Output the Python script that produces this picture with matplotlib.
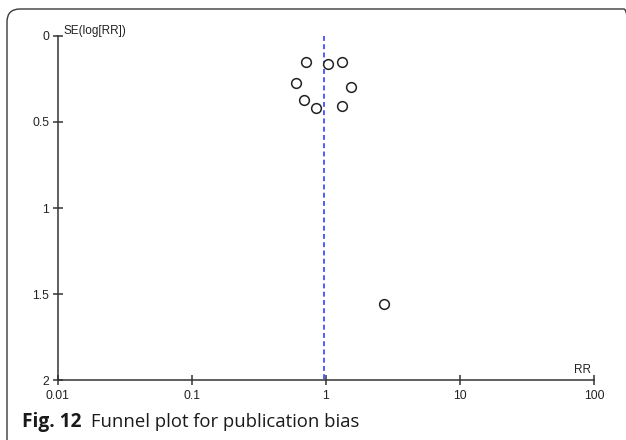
import numpy as np
import matplotlib
matplotlib.use("Agg")
import matplotlib.pyplot as plt
from matplotlib.patches import FancyBboxPatch
from matplotlib.ticker import FixedLocator, NullLocator

# study estimates
rr = [0.71, 1.03, 1.33, 0.60, 1.53, 0.69, 0.85, 1.31, 2.72]
se_log_rr = [0.149, 0.163, 0.152, 0.272, 0.295, 0.374, 0.420, 0.405, 1.56]
pooled_rr = 0.97

x_ticks = [0.01, 0.1, 1, 10, 100]
x_tick_labels = ['0.01', '0.1', '1', '10', '100']
y_ticks = [0, 0.5, 1, 1.5, 2]
y_tick_labels = ['0', '0.5', '1', '1.5', '2']

W, H = 626, 440
fig = plt.figure(figsize=(W / 100, H / 100), dpi=100)

# rounded frame around the figure (cut off at right/bottom like the scan)
frame = FancyBboxPatch((7, -30), 637 - 7, H - 9 + 30,
                       boxstyle="round,pad=0,rounding_size=13",
                       transform=None, fill=False, edgecolor='#3a3a3a', linewidth=1.0)
fig.add_artist(frame)

ax = fig.add_axes([57.7 / W, 1 - 380 / H, (594 - 57.7) / W, (380 - 36) / H])
ax.set_facecolor('none')

ax.plot([pooled_rr, pooled_rr], [0, 2], color='#2030ff', linewidth=1.1,
        dashes=(3.2, 2.2))
ax.plot(rr, se_log_rr, 'o', markersize=7, markerfacecolor='white',
        markeredgecolor='#222222', markeredgewidth=1.1, linestyle='none')

ax.set_xscale('log')
ax.set_xlim(0.01, 100)
ax.set_ylim(2, 0)

for s in ['top', 'right']:
    ax.spines[s].set_visible(False)
for s in ['left', 'bottom']:
    ax.spines[s].set_color('#333333')
    ax.spines[s].set_linewidth(1.1)

ax.xaxis.set_major_locator(FixedLocator(x_ticks))
ax.xaxis.set_minor_locator(NullLocator())
ax.set_xticklabels(x_tick_labels)
ax.yaxis.set_major_locator(FixedLocator(y_ticks))
ax.set_yticklabels(y_tick_labels)

ax.tick_params(axis='x', direction='inout', length=7, width=1.1, color='#333333',
               pad=3.5, labelsize=8.8, labelcolor='#222222')
ax.tick_params(axis='y', direction='inout', length=7, width=1.1, color='#333333',
               pad=2.5, labelsize=8.8, labelcolor='#222222')
for lab in ax.get_xticklabels() + ax.get_yticklabels():
    lab.set_fontfamily('Liberation Sans')

ax.text(63 / W, 1 - 37 / H, 'SE(log[RR])', transform=fig.transFigure,
        ha='left', va='bottom', fontsize=8.5, color='#222222',
        family='Liberation Sans')
ax.text(591 / W, 1 - 376 / H, 'RR', transform=fig.transFigure,
        ha='right', va='bottom', fontsize=8.5, color='#222222',
        family='Liberation Sans')

# caption
fig.text(22 / W, 1 - 427 / H, 'Fig. 12', ha='left', va='baseline',
         fontsize=13.8, fontweight='bold', family='Open Sans', color='#1a1a1a')
fig.text(91 / W, 1 - 427 / H, 'Funnel plot for publication bias', ha='left',
         va='baseline', fontsize=13.3, family='Open Sans', color='#1a1a1a')

fig.savefig('out.png', dpi=100)
